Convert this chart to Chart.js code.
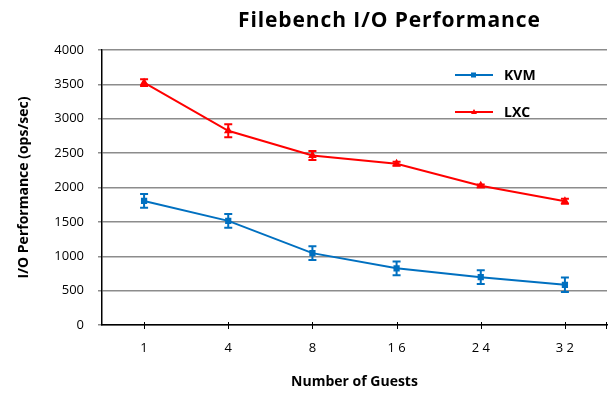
<!DOCTYPE html>
<html>
<head>
<meta charset="utf-8">
<script src="https://cdn.jsdelivr.net/npm/chart.js@4"></script>
<style>
  html, body { margin: 0; padding: 0; background: #fff; }
  #wrap { position: relative; width: 613px; height: 394px; }
  #title {
    position: absolute; top: 5px; left: 238px;
    font: bold 21px "Open Sans", "Liberation Sans", sans-serif;
    letter-spacing: 0.9px; color: #000; white-space: nowrap;
  }
</style>
</head>
<body>
<div id="wrap">
  <canvas id="c" width="613" height="394"></canvas>
  <div id="title">Filebench I/O Performance</div>
</div>
<script>
// ── DATA ─────────────────────────────────────────
const guests   = ['1', '4', '8', '16', '24', '32'];
const kvmVals  = [1805, 1515, 1045, 825, 695, 585];
const kvmErr   = [100, 100, 100, 100, 100, 105];
const lxcVals  = [3525, 2825, 2465, 2345, 2025, 1800];
const lxcErr   = [50, 95, 65, 30, 20, 35];
const yTicks   = [0, 500, 1000, 1500, 2000, 2500, 3000, 3500, 4000];

const FONT = '"Open Sans", "Liberation Sans", sans-serif';
const KVM_C = '#0070C0', LXC_C = '#FF0000';

// spaced digits, like the reference ("1 6")
const spaced = s => s.split('').join(' ');

// error bars drawn from the y scale
const errorBars = {
  id: 'errorBars',
  afterDatasetsDraw(chart) {
    const { ctx } = chart;
    const ys = chart.scales.y;
    chart.data.datasets.forEach((ds, di) => {
      const meta = chart.getDatasetMeta(di);
      ctx.save();
      ctx.strokeStyle = ds.borderColor;
      ctx.lineWidth = 2;
      meta.data.forEach((pt, i) => {
        const e = ds.errors[i];
        const top = ys.getPixelForValue(ds.data[i] + e);
        const bot = ys.getPixelForValue(ds.data[i] - e);
        ctx.beginPath();
        ctx.moveTo(pt.x, top); ctx.lineTo(pt.x, bot);
        ctx.moveTo(pt.x - 4, top); ctx.lineTo(pt.x + 4, top);
        ctx.moveTo(pt.x - 4, bot); ctx.lineTo(pt.x + 4, bot);
        ctx.stroke();
      });
      ctx.restore();
    });
  }
};

// legend inside the plot, upper right
const innerLegend = {
  id: 'innerLegend',
  afterDraw(chart) {
    const { ctx } = chart;
    chart.data.datasets.forEach((ds, i) => {
      const y = 75 + i * 37;
      ctx.save();
      ctx.strokeStyle = ds.borderColor;
      ctx.fillStyle = ds.borderColor;
      ctx.lineWidth = 2;
      ctx.beginPath(); ctx.moveTo(455, y); ctx.lineTo(493, y); ctx.stroke();
      if (ds.pointStyle === 'rect') ctx.fillRect(471, y - 2.5, 5, 5);
      else { ctx.beginPath(); ctx.moveTo(474, y - 3); ctx.lineTo(477, y + 2); ctx.lineTo(471, y + 2); ctx.fill(); }
      ctx.fillStyle = '#000';
      ctx.font = 'bold 14px ' + FONT;
      ctx.textBaseline = 'middle';
      ctx.fillText(ds.label, 504, y + 1);
      ctx.restore();
    });
  }
};

// x tick marks that cross the axis line
const crossTicks = {
  id: 'crossTicks',
  afterDraw(chart) {
    const { ctx } = chart;
    const xs = chart.scales.x;
    const yb = chart.chartArea.bottom;
    ctx.save();
    ctx.strokeStyle = '#000';
    ctx.lineWidth = 1;
    ctx.beginPath();
    guests.forEach((g, i) => {
      const x = Math.round(xs.getPixelForTick(i)) + 0.5;
      ctx.moveTo(x, yb - 3); ctx.lineTo(x, yb + 4);
    });
    const xr = Math.round(chart.chartArea.right) - 0.5;
    ctx.moveTo(xr, yb - 3); ctx.lineTo(xr, yb + 4);
    ctx.stroke();
    ctx.restore();
  }
};

new Chart(document.getElementById('c'), {
  type: 'line',
  data: {
    labels: guests,
    datasets: [
      { label: 'KVM', data: kvmVals, errors: kvmErr, borderColor: KVM_C, backgroundColor: KVM_C,
        borderWidth: 2, pointStyle: 'rect', pointRadius: 3, tension: 0 },
      { label: 'LXC', data: lxcVals, errors: lxcErr, borderColor: LXC_C, backgroundColor: LXC_C,
        borderWidth: 2, pointStyle: 'triangle', pointRadius: 3, tension: 0 },
    ]
  },
  options: {
    responsive: false,
    animation: false,
    layout: { padding: { top: 50, right: 4, left: 12, bottom: 0 } },
    plugins: { legend: { display: false }, tooltip: { enabled: false }, title: { display: false } },
    scales: {
      x: {
        offset: true,
        grid: { display: false },
        border: { color: '#000', width: 1.5 },
        ticks: { color: '#000', font: { family: FONT, size: 13 }, padding: 7, callback: (v, i) => spaced(guests[i]) },
        title: { display: true, text: 'Number of Guests', color: '#000', font: { family: FONT, size: 14, weight: 'bold' }, padding: { top: 14 } },
        afterFit: s => { s.height = 394 - 325; }
      },
      y: {
        min: 0, max: 4000,
        afterBuildTicks: s => { s.ticks = yTicks.map(v => ({ value: v })); },
        grid: { color: '#8c8c8c', lineWidth: 1.5, tickLength: 4, drawTicks: true },
        border: { color: '#000', width: 1.5 },
        ticks: { color: '#000', font: { family: FONT, size: 13 }, padding: 14, callback: v => String(v) },
        title: { display: true, text: 'I/O Performance (ops/sec)', color: '#000', font: { family: FONT, size: 14, weight: 'bold' }, padding: { bottom: 2 } },
        afterFit: s => { s.width = 102 - 12; }
      }
    }
  },
  plugins: [errorBars, innerLegend, crossTicks]
});
</script>
</body>
</html>
